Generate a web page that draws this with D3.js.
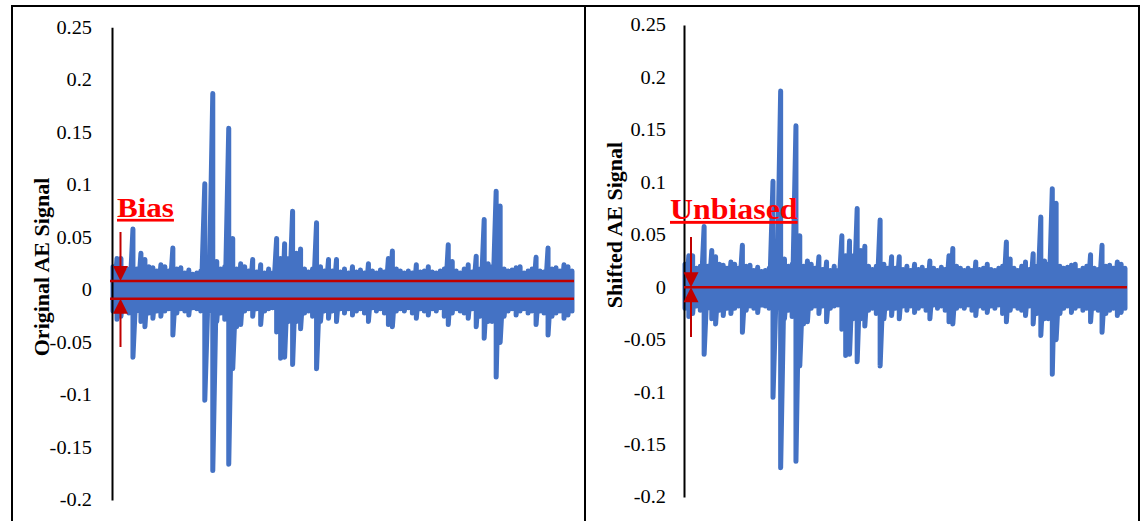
<!DOCTYPE html>
<html>
<head>
<meta charset="utf-8">
<script src="https://cdn.jsdelivr.net/npm/d3@7"></script>
<style>
  html, body { margin: 0; padding: 0; background: #fff; }
  svg { display: block; }
  text { font-family: "Liberation Serif", "Times New Roman", serif; }
</style>
</head>
<body>
<svg id="chart" width="1142" height="521"></svg>
<script>
// ---------------- DATA ----------------
const yTickValues = [0.25, 0.2, 0.15, 0.1, 0.05, 0, -0.05, -0.1, -0.15, -0.2];
const yTickLabels = ["0.25", "0.2", "0.15", "0.1", "0.05", "0", "-0.05", "-0.1", "-0.15", "-0.2"];

// AE signal envelope: positive peak and negative peak for each sample window
const signalUpper = [
  0.022, 0.030, 0.030, 0.018, 0.020, 0.058, 0.020, 0.035, 0.029, 0.022,
  0.021, 0.018, 0.024, 0.022, 0.018, 0.040, 0.020, 0.021, 0.016, 0.019,
  0.015, 0.016, 0.018, 0.101, 0.018, 0.187, 0.027, 0.020, 0.022, 0.154,
  0.049, 0.020, 0.025, 0.022, 0.018, 0.029, 0.017, 0.024, 0.016, 0.020,
  0.016, 0.049, 0.030, 0.044, 0.030, 0.075, 0.035, 0.039, 0.020, 0.017,
  0.020, 0.064, 0.022, 0.018, 0.029, 0.018, 0.029, 0.017, 0.020, 0.016,
  0.022, 0.017, 0.019, 0.016, 0.025, 0.018, 0.016, 0.019, 0.017, 0.030,
  0.037, 0.020, 0.018, 0.016, 0.018, 0.016, 0.024, 0.017, 0.018, 0.022,
  0.017, 0.016, 0.018, 0.020, 0.043, 0.027, 0.018, 0.016, 0.020, 0.024,
  0.017, 0.032, 0.020, 0.067, 0.025, 0.022, 0.094, 0.080, 0.020, 0.018,
  0.019, 0.021, 0.022, 0.016, 0.018, 0.020, 0.031, 0.018, 0.017, 0.040,
  0.020, 0.021, 0.018, 0.024, 0.022, 0.018
];
const signalLower = [
  -0.020, -0.028, -0.025, -0.018, -0.022, -0.064, -0.020, -0.030, -0.035, -0.022,
  -0.027, -0.020, -0.025, -0.020, -0.018, -0.043, -0.022, -0.018, -0.020, -0.024,
  -0.017, -0.018, -0.020, -0.105, -0.020, -0.172, -0.030, -0.022, -0.028, -0.166,
  -0.075, -0.035, -0.033, -0.020, -0.018, -0.025, -0.018, -0.033, -0.020, -0.018,
  -0.017, -0.040, -0.065, -0.064, -0.030, -0.071, -0.030, -0.037, -0.022, -0.020,
  -0.025, -0.075, -0.030, -0.020, -0.027, -0.020, -0.030, -0.018, -0.022, -0.018,
  -0.024, -0.020, -0.018, -0.022, -0.030, -0.017, -0.020, -0.018, -0.022, -0.033,
  -0.035, -0.020, -0.018, -0.020, -0.017, -0.022, -0.027, -0.018, -0.020, -0.024,
  -0.018, -0.020, -0.017, -0.025, -0.033, -0.022, -0.018, -0.020, -0.022, -0.027,
  -0.018, -0.035, -0.025, -0.046, -0.030, -0.030, -0.083, -0.050, -0.025, -0.020,
  -0.018, -0.024, -0.020, -0.018, -0.022, -0.020, -0.033, -0.020, -0.022, -0.043,
  -0.025, -0.022, -0.020, -0.027, -0.024, -0.020
];

const biasLevels = [0.0085, -0.0085];   // original signal bias band
const unbiasedLevel = [0];                // shifted signal reference

// ---------------- STYLE ----------------
const BLUE = "#4472C4";
const DARK_RED = "#C00000";
const RED = "#FF0000";
const STRETCH = 1.1;

const svg = d3.select("#chart");

// frame
const frame = svg.append("g").attr("stroke", "#000").attr("stroke-width", 2).attr("fill", "none");
frame.append("path").attr("d", "M12,530 L12,6 L1139,6 L1139,530");
frame.append("line").attr("x1", 585).attr("x2", 585).attr("y1", 6).attr("y2", 530);

const panels = [
  { axisX: 112, x0: 113, x1: 572, yTop: 27.3, yBot: 500, pad: 20,
    label: "Original AE Signal", labelX: 41, labelY: 267,
    lines: biasLevels, lineX0: 110, lineX1: 574,
    note: "Bias", noteX: 117, noteY: 217, noteSize: 27, noteStretch: 1.15,
    arrowX: 120.5, mode: "bias" },
  { axisX: 684, x0: 685, x1: 1125, yTop: 25, yBot: 497, pad: 18,
    label: "Shifted AE Signal", labelX: 614, labelY: 225,
    lines: unbiasedLevel, lineX0: 684, lineX1: 1127,
    note: "Unbiased", noteX: 670, noteY: 219, noteSize: 29, noteStretch: 1.1,
    arrowX: 691, mode: "unbiased" }
];

panels.forEach(p => {
  const g = svg.append("g");
  const y = d3.scaleLinear().domain([-0.2, 0.25]).range([p.yBot, p.yTop]);
  const x = d3.scaleLinear().domain([0, signalUpper.length - 1]).range([p.x0, p.x1]);

  // signal: for every sample window, trace positive then negative peak
  const pts = [];
  signalUpper.forEach((u, i) => { pts.push([i, u]); pts.push([i, signalLower[i]]); });
  const line = d3.line().x(d => x(d[0])).y(d => y(d[1]));
  g.append("path")
    .attr("d", line(pts))
    .attr("fill", "none")
    .attr("stroke", BLUE)
    .attr("stroke-width", 5)
    .attr("stroke-linejoin", "round")
    .attr("stroke-linecap", "round");

  // axis
  const axis = d3.axisLeft(y)
    .tickValues(yTickValues)
    .tickFormat((d, i) => yTickLabels[i])
    .tickSize(0)
    .tickSizeOuter(0)
    .tickPadding(p.pad);
  const ag = g.append("g").attr("transform", `translate(${p.axisX},0)`).call(axis);
  ag.select(".domain").attr("stroke", "#000").attr("stroke-width", 2);
  ag.selectAll(".tick text")
    .attr("font-family", "Liberation Serif")
    .attr("font-size", 18.5)
    .attr("fill", "#000")
    .attr("x", -p.pad / STRETCH)
    .attr("transform", `scale(${STRETCH},1)`);

  // reference lines
  g.selectAll("line.ref").data(p.lines).enter().append("line")
    .attr("class", "ref")
    .attr("x1", p.lineX0).attr("x2", p.lineX1)
    .attr("y1", d => y(d)).attr("y2", d => y(d))
    .attr("stroke", DARK_RED).attr("stroke-width", 2.5);

  // arrows
  const aw = 7.5, ah = 15;
  let topTip, botTip, topStart, botEnd;
  if (p.mode === "bias") {
    topTip = y(biasLevels[0]); botTip = y(biasLevels[1]);
    topStart = 232; botEnd = 347;
  } else {
    topTip = y(0); botTip = y(0);
    topStart = 237; botEnd = 337;
  }
  const ar = g.append("g").attr("fill", DARK_RED).attr("stroke", DARK_RED);
  ar.append("line").attr("x1", p.arrowX).attr("x2", p.arrowX)
    .attr("y1", topStart).attr("y2", topTip - ah + 1).attr("stroke-width", 2);
  ar.append("path").attr("stroke", "none")
    .attr("d", `M${p.arrowX - aw},${topTip - ah} L${p.arrowX + aw},${topTip - ah} L${p.arrowX},${topTip} Z`);
  ar.append("line").attr("x1", p.arrowX).attr("x2", p.arrowX)
    .attr("y1", botTip + ah - 1).attr("y2", botEnd).attr("stroke-width", 2);
  ar.append("path").attr("stroke", "none")
    .attr("d", `M${p.arrowX - aw},${botTip + ah} L${p.arrowX + aw},${botTip + ah} L${p.arrowX},${botTip} Z`);

  // note text
  g.append("text")
    .attr("transform", `translate(${p.noteX},${p.noteY}) scale(${p.noteStretch},1)`)
    .attr("font-family", "Liberation Serif")
    .attr("font-weight", "bold")
    .attr("font-size", p.noteSize)
    .attr("fill", RED)
    .attr("text-decoration", "underline")
    .text(p.note);

  // y label
  g.append("text")
    .attr("transform", `translate(${p.labelX},${p.labelY}) rotate(-90)`)
    .attr("text-anchor", "middle")
    .attr("dominant-baseline", "central")
    .attr("font-family", "Liberation Serif")
    .attr("font-weight", "bold")
    .attr("font-size", 22)
    .attr("fill", "#000")
    .text(p.label);
});
</script>
</body>
</html>
